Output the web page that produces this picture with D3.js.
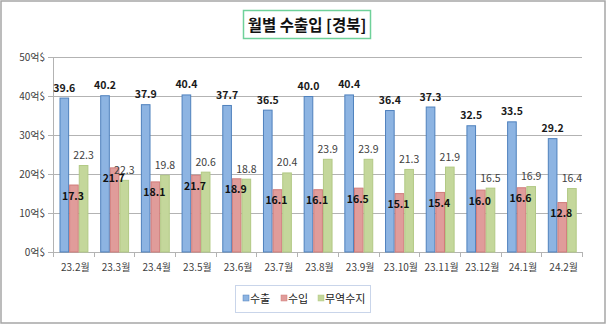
<!DOCTYPE html>
<html><head><meta charset="utf-8">
<script src="https://cdn.jsdelivr.net/npm/d3@7"></script>
<style>
html,body{margin:0;padding:0;background:#fff;}
svg{display:block;font-family:"Noto Sans CJK KR","Noto Sans",sans-serif;}
</style></head>
<body>
<script>
const categories = ["23.2월","23.3월","23.4월","23.5월","23.6월","23.7월","23.8월","23.9월","23.10월","23.11월","23.12월","24.1월","24.2월"];
const exportValues = [39.6,40.2,37.9,40.4,37.7,36.5,40.0,40.4,36.4,37.3,32.5,33.5,29.2];
const importValues = [17.3,21.7,18.1,19.8,18.9,16.1,16.1,16.5,15.1,15.4,16.0,16.6,12.8];
const balanceValues = [22.3,18.5,19.8,20.6,18.8,20.4,23.9,23.9,21.3,21.9,16.5,16.9,16.4];
const exportLabels = ["39.6","40.2","37.9","40.4","37.7","36.5","40.0","40.4","36.4","37.3","32.5","33.5","29.2"];
const importLabels = ["17.3","21.7","18.1","21.7","18.9","16.1","16.1","16.5","15.1","15.4","16.0","16.6","12.8"];
const balanceLabels = ["22.3","22.3","19.8","20.6","18.8","20.4","23.9","23.9","21.3","21.9","16.5","16.9","16.4"];
const yTicks = [0,10,20,30,40,50];
const seriesNames = ["수출","수입","무역수지"];
const title = "월별 수출입 [경북]";

(function(){
const W=610,H=327;
const svg=d3.select("body").append("svg").attr("width",W).attr("height",H);
svg.append("rect").attr("x",1).attr("y",1).attr("width",604).attr("height",322)
  .attr("fill","#fff").attr("stroke","#a6a6a6").attr("stroke-width",1.5);

// title
const tg=svg.append("g");
tg.append("rect").attr("x",243.5).attr("y",10.5).attr("width",127).attr("height",28)
  .attr("fill","#fff").attr("stroke","#6fd19a").attr("stroke-width",1.5);
tg.append("text").attr("x",307).attr("y",30.5).attr("text-anchor","middle")
  .attr("font-size",15.5).attr("font-weight","bold").attr("fill","#111").text(title);

const pL=53,pR=582,pT=57,pB=252;
const x=d3.scaleBand().domain(categories).range([pL,pR]).paddingInner(0).paddingOuter(0);
const y=d3.scaleLinear().domain([0,50]).range([pB,pT]);
const inner=d3.scaleBand().domain(seriesNames).range([0,x.bandwidth()*0.71]);
const off=(x.bandwidth()-inner.range()[1])/2+0.6;

// grid
const grid=svg.append("g");
grid.selectAll("line").data(yTicks).join("line")
  .attr("x1",pL-5).attr("x2",pR).attr("y1",d=>Math.round(y(d))+0.5).attr("y2",d=>Math.round(y(d))+0.5)
  .attr("stroke","#b3b3b3").attr("stroke-width",1);
svg.append("line").attr("x1",pL+0.5).attr("x2",pL+0.5).attr("y1",pT).attr("y2",pB)
  .attr("stroke","#b3b3b3");
// x ticks
svg.append("g").selectAll("line").data(d3.range(categories.length+1)).join("line")
  .attr("x1",i=>Math.round(pL+i*x.bandwidth())+0.5).attr("x2",i=>Math.round(pL+i*x.bandwidth())+0.5)
  .attr("y1",pB).attr("y2",pB+5).attr("stroke","#b3b3b3");

// y labels
svg.append("g").selectAll("text").data(yTicks).join("text")
  .attr("x",45).attr("y",d=>y(d)+4).attr("text-anchor","end")
  .attr("font-size",10).attr("fill","#404040").text(d=>d+"억$");

// x labels
svg.append("g").selectAll("text").data(categories).join("text")
  .attr("x",d=>x(d)+x.bandwidth()/2+2).attr("y",pB+19).attr("text-anchor","middle")
  .attr("font-size",10).attr("fill","#404040").text(d=>d);

const fills=["#8db4e2","#e09c9a","#c4d79b"];
const strokes=["#4f81bd","#d07c7a","#b2c985"];
const series=[exportValues,importValues,balanceValues];
series.forEach((vals,si)=>{
  svg.append("g").selectAll("rect").data(vals).join("rect")
    .attr("x",(d,i)=>x(categories[i])+off+inner(seriesNames[si])+0.5)
    .attr("width",inner.bandwidth()-1)
    .attr("y",d=>y(d)+0.5).attr("height",d=>pB-y(d)-0.5)
    .attr("fill",fills[si]).attr("stroke",strokes[si]).attr("stroke-width",1);
});

const cx=(i,si)=>x(categories[i])+off+inner(seriesNames[si])+inner.bandwidth()/2;
svg.append("g").selectAll("text").data(exportValues).join("text")
  .attr("x",(d,i)=>cx(i,0)).attr("y",d=>y(d)-6).attr("text-anchor","middle")
  .attr("font-size",10.5).attr("font-weight","bold").attr("fill","#1a1a1a").text((d,i)=>exportLabels[i]);
svg.append("g").selectAll("text").data(importValues).join("text")
  .attr("x",(d,i)=>cx(i,1)-1).attr("y",d=>y(d)+15).attr("text-anchor","middle")
  .attr("font-size",10.5).attr("font-weight","bold").attr("fill","#111").text((d,i)=>importLabels[i]);
svg.append("g").selectAll("text").data(balanceValues).join("text")
  .attr("x",(d,i)=>cx(i,2)).attr("y",d=>y(d)-6).attr("text-anchor","middle")
  .attr("font-size",10.5).attr("fill","#404040").text((d,i)=>balanceLabels[i]);

// legend
const lg=svg.append("g");
lg.append("rect").attr("x",235.5).attr("y",285.5).attr("width",135).attr("height",27)
  .attr("fill","#fff").attr("stroke","#c9d5ea");
const lx=[243,281,318];
seriesNames.forEach((n,i)=>{
  lg.append("rect").attr("x",lx[i]).attr("y",295).attr("width",6).attr("height",6)
    .attr("fill",fills[i]).attr("stroke",strokes[i]).attr("stroke-width",0.5);
  lg.append("text").attr("x",lx[i]+7).attr("y",302.5).attr("font-size",11).attr("fill","#222").text(n);
});
})();
</script>
</body></html>
